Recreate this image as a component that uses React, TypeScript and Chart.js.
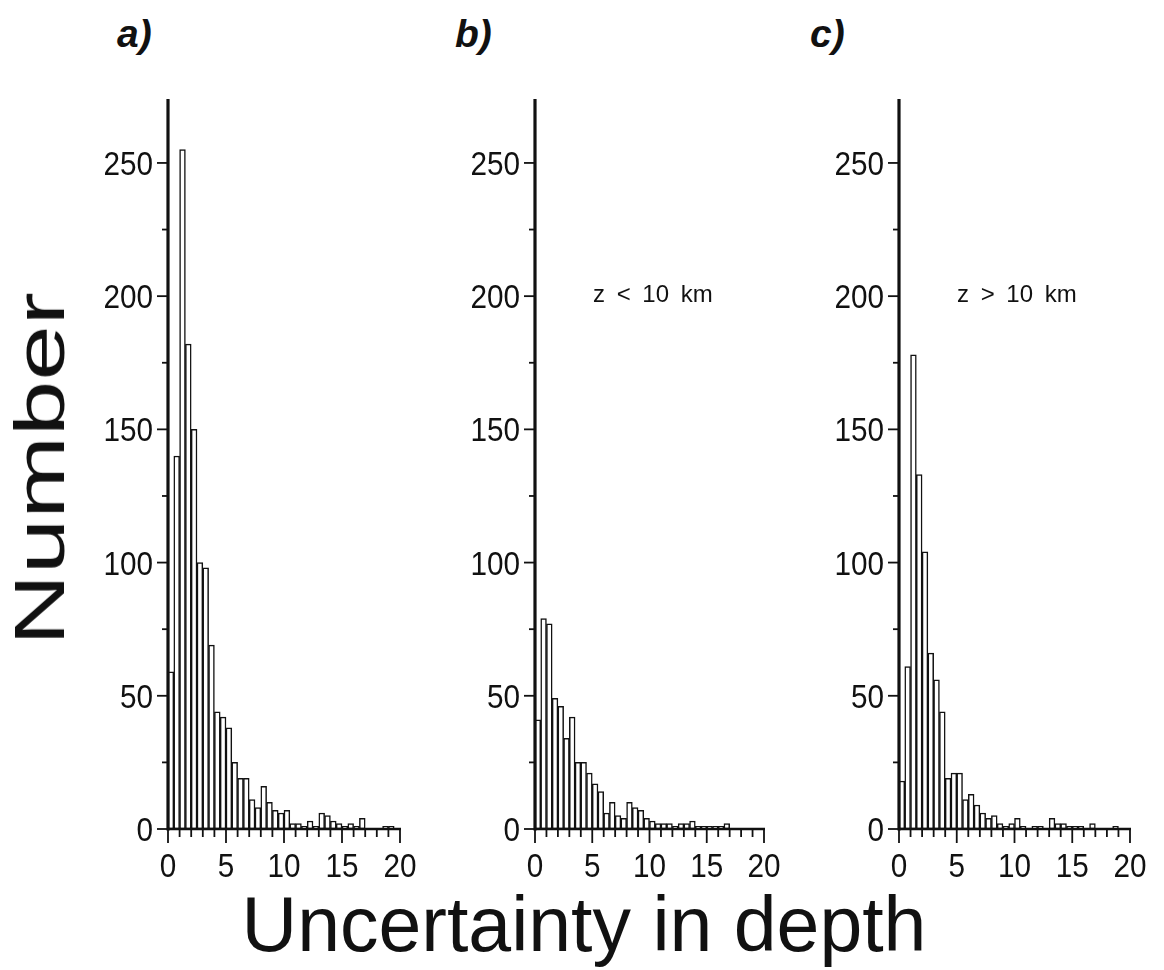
import React, { useEffect, useRef } from 'react';
import { Chart, registerables } from 'chart.js';

Chart.register(...registerables);

// ---- data ----
const BIN_WIDTH = 0.5;
const binStarts = [
  0, 0.5, 1, 1.5, 2, 2.5, 3, 3.5, 4, 4.5, 5, 5.5, 6, 6.5, 7, 7.5, 8, 8.5, 9, 9.5,
  10, 10.5, 11, 11.5, 12, 12.5, 13, 13.5, 14, 14.5, 15, 15.5, 16, 16.5, 17, 17.5, 18, 18.5, 19, 19.5,
];
// a) all events
const countsAll = [
  59, 140, 255, 182, 150, 100, 98, 69, 44, 42, 38, 25, 19, 19, 11, 8, 16, 10, 7, 6,
  7, 2, 2, 1, 3, 1, 6, 5, 3, 2, 1, 2, 1, 4, 0, 0, 0, 1, 1, 0,
];
// b) z < 10 km
const countsShallow = [
  41, 79, 77, 49, 46, 34, 42, 25, 25, 21, 17, 14, 6, 10, 5, 4, 10, 8, 7, 4,
  3, 2, 2, 2, 1, 2, 2, 3, 1, 1, 1, 1, 1, 2, 0, 0, 0, 0, 0, 0,
];
// c) z > 10 km
const countsDeep = [
  18, 61, 178, 133, 104, 66, 56, 44, 19, 21, 21, 11, 13, 9, 6, 4, 5, 2, 1, 2,
  4, 1, 0, 1, 1, 0, 4, 2, 2, 1, 1, 1, 0, 2, 0, 0, 0, 1, 0, 0,
];
const yTickValues = [0, 25, 50, 75, 100, 125, 150, 175, 200, 225, 250];
const yTickLabels = ['0', '50', '100', '150', '200', '250'];
const xTickValues = [0, 1, 2, 3, 4, 5, 6, 7, 8, 9, 10, 11, 12, 13, 14, 15, 16, 17, 18, 19, 20];
const xTickLabels = ['0', '5', '10', '15', '20'];
const X_MIN = 0;
const X_MAX = 20;
const Y_MIN = 0;
const Y_MAX = 274;

const panelLetters = ['a)', 'b)', 'c)'];
const panelNotes = ['', 'z < 10 km', 'z > 10 km'];
const yTitle = 'Number';
const xTitle = 'Uncertainty in depth';

// ---- layout ----
const FONT = '"Liberation Sans", Arial, Helvetica, sans-serif';
const Y0 = 829;
const YTOP = 99;
const CANVAS_TOP = 60;
const CANVAS_H = 880;
const PAD_L = 100;
const PAD_R = 30;
const panelsLayout = [
  { x0: 168, x1: 400, letterX: 117 },
  { x0: 535, x1: 764, letterX: 455 },
  { x0: 899, x1: 1130, letterX: 810 },
];
const panelCounts = [countsAll, countsShallow, countsDeep];

const axisPlugin = {
  id: 'customAxes',
  afterDatasetsDraw(chart: any) {
    const { ctx, scales } = chart;
    const xs = scales.x;
    const ys = scales.y;
    const ax = xs.getPixelForValue(X_MIN);
    const axEnd = xs.getPixelForValue(X_MAX);
    const ay = ys.getPixelForValue(Y_MIN);
    const ayTop = ys.getPixelForValue(Y_MAX);
    ctx.save();
    ctx.strokeStyle = '#111';
    ctx.fillStyle = '#111';
    // y axis
    ctx.lineWidth = 3.2;
    ctx.beginPath();
    ctx.moveTo(ax, ay + 1.5);
    ctx.lineTo(ax, ayTop);
    ctx.stroke();
    // x axis
    ctx.lineWidth = 2.6;
    ctx.beginPath();
    ctx.moveTo(ax, ay);
    ctx.lineTo(axEnd + 1, ay);
    ctx.stroke();
    // y ticks
    ctx.lineWidth = 1.8;
    yTickValues.forEach((v) => {
      const py = ys.getPixelForValue(v);
      const major = v % 50 === 0;
      ctx.beginPath();
      ctx.moveTo(ax, py);
      ctx.lineTo(ax - (major ? 11 : 6), py);
      ctx.stroke();
    });
    // x ticks
    xTickValues.forEach((v) => {
      const px = xs.getPixelForValue(v);
      const major = v % 5 === 0;
      ctx.beginPath();
      ctx.moveTo(px, ay);
      ctx.lineTo(px, ay + (major ? 14 : 8));
      ctx.stroke();
    });
    // labels
    const SX = 0.9;
    ctx.font = `33px ${FONT}`;
    ctx.textBaseline = 'alphabetic';
    yTickLabels.forEach((lab) => {
      const py = ys.getPixelForValue(Number(lab));
      ctx.save();
      ctx.translate(ax - 15, py + 12);
      ctx.scale(SX, 1);
      ctx.textAlign = 'right';
      ctx.fillText(lab, 0, 0);
      ctx.restore();
    });
    xTickLabels.forEach((lab) => {
      const px = xs.getPixelForValue(Number(lab));
      ctx.save();
      ctx.translate(px, ay + 48);
      ctx.scale(SX, 1);
      ctx.textAlign = 'center';
      ctx.fillText(lab, 0, 0);
      ctx.restore();
    });
    ctx.restore();
  },
};

function Panel({ idx }: { idx: number }) {
  const ref = useRef<HTMLCanvasElement | null>(null);
  const lay = panelsLayout[idx];
  const cw = lay.x1 - lay.x0 + PAD_L + PAD_R;
  useEffect(() => {
    if (!ref.current) return;
    const counts = panelCounts[idx];
    const chart = new Chart(ref.current, {
      type: 'bar',
      data: {
        datasets: [
          {
            data: binStarts.map((s, i) => ({ x: s + BIN_WIDTH / 2, y: counts[i] })),
            backgroundColor: '#ffffff',
            borderColor: '#111111',
            borderWidth: 1.5,
            borderSkipped: false,
            barPercentage: 1,
            categoryPercentage: 1,
          },
        ],
      },
      options: {
        animation: false,
        responsive: false,
        maintainAspectRatio: false,
        devicePixelRatio: 1,
        layout: {
          padding: {
            left: PAD_L,
            right: PAD_R,
            top: YTOP - CANVAS_TOP,
            bottom: CANVAS_TOP + CANVAS_H - Y0,
          },
        },
        plugins: { legend: { display: false }, tooltip: { enabled: false }, title: { display: false } },
        scales: {
          x: { type: 'linear', min: X_MIN, max: X_MAX, display: false, offset: false },
          y: { type: 'linear', min: Y_MIN, max: Y_MAX, display: false },
        },
      },
      plugins: [axisPlugin],
    } as any);
    return () => chart.destroy();
  }, [idx]);
  return (
    <canvas
      ref={ref}
      width={cw}
      height={CANVAS_H}
      style={{ position: 'absolute', left: lay.x0 - PAD_L, top: CANVAS_TOP, width: cw, height: CANVAS_H }}
    />
  );
}

export default function App() {
  return (
    <div
      style={{
        position: 'absolute',
        left: 0,
        top: 0,
        width: 1164,
        height: 970,
        background: '#fff',
        overflow: 'hidden',
        fontFamily: FONT,
        color: '#111',
      }}
    >
      {panelsLayout.map((_, i) => (
        <Panel key={i} idx={i} />
      ))}
      {panelsLayout.map((lay, i) => (
        <div
          key={'l' + i}
          style={{
            position: 'absolute',
            left: lay.letterX,
            top: 12,
            fontSize: 39,
            fontStyle: 'italic',
            fontWeight: 'bold',
            lineHeight: '44px',
            whiteSpace: 'nowrap',
          }}
        >
          {panelLetters[i]}
        </div>
      ))}
      {panelsLayout.map((lay, i) =>
        panelNotes[i] ? (
          <div
            key={'n' + i}
            style={{
              position: 'absolute',
              left: lay.x0 + 58,
              top: 281,
              fontSize: 24,
              lineHeight: '26px',
              wordSpacing: 5,
              whiteSpace: 'nowrap',
            }}
          >
            {panelNotes[i]}
          </div>
        ) : null
      )}
      <div
        style={{
          position: 'absolute',
          left: 40,
          top: 469,
          fontSize: 70,
          lineHeight: '70px',
          whiteSpace: 'nowrap',
          transform: 'translate(-50%, -50%) rotate(-90deg) scale(1.42, 1)',
        }}
      >
        {yTitle}
      </div>
      <div
        style={{
          position: 'absolute',
          left: 584,
          top: 924,
          fontSize: 77,
          lineHeight: '77px',
          whiteSpace: 'nowrap',
          transform: 'translate(-50%, -50%)',
        }}
      >
        {xTitle}
      </div>
    </div>
  );
}
